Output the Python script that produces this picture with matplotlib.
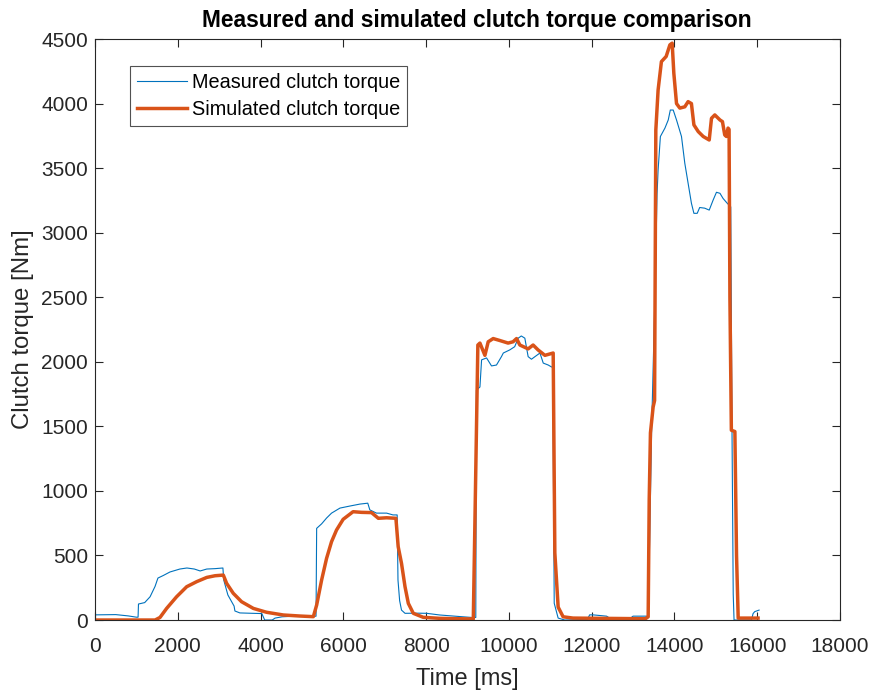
import matplotlib
matplotlib.use("Agg")
import matplotlib.pyplot as plt

plt.rcParams['font.family'] = ['Liberation Sans', 'DejaVu Sans']

# Measured clutch torque (time in ms, torque in Nm)
meas_t = [0, 500, 800, 1000, 1040, 1050, 1200, 1330, 1450, 1520, 1650, 1810, 2050, 2220,
          2400, 2540, 2700, 2900, 3090, 3110, 3210, 3360, 3380, 3500, 3800, 4030, 4100,
          4280, 4350, 4520, 4710, 5000, 5300, 5340, 5355, 5475, 5595, 5715, 5918, 6160,
          6400, 6590, 6640, 6800, 7045, 7200, 7300, 7320, 7360, 7405, 7490, 7800, 8010,
          8330, 8890, 9100, 9200, 9215, 9300, 9340, 9460, 9580, 9700, 9820, 9865, 10020,
          10140, 10225, 10300, 10385, 10465, 10545, 10630, 10750, 10830, 10950, 11030,
          11060, 11095, 11190, 11350, 11900, 11950, 12030, 12360, 12480, 12900, 13000,
          13360, 13400, 13450, 13520, 13580, 13605, 13660, 13770, 13850, 13900, 13970,
          14050, 14170, 14250, 14330, 14410, 14470, 14550, 14610, 14730, 14840, 14935,
          15015, 15100, 15175, 15275, 15360, 15390, 15420, 15440, 15860, 15900, 15940, 16045]
meas_v = [40, 42, 32, 22, 22, 124, 135, 180, 260, 325, 345, 372, 395, 403,
          395, 380, 395, 398, 403, 310, 194, 108, 70, 55, 52, 50, 0,
          0, 15, 25, 28, 30, 28, 30, 710, 745, 790, 828, 867, 883,
          898, 905, 853, 828, 828, 814, 814, 310, 150, 77, 52, 53, 52,
          39, 25, 20, 20, 1780, 1805, 2015, 2030, 1968, 1975, 2040, 2068, 2092,
          2117, 2183, 2200, 2183, 2040, 2020, 2040, 2068, 1990, 1975, 1960,
          1960, 130, 15, 0, 5, 40, 40, 30, 5, 5, 30,
          30, 600, 1500, 2400, 3300, 3485, 3745, 3810, 3873, 3950, 3950,
          3873, 3745, 3538, 3383, 3228, 3150, 3150, 3195, 3190, 3175, 3253,
          3313, 3305, 3265, 3228, 3200, 1500, 200, 0, 0, 50, 65, 77]

# Simulated clutch torque
sim_t = [0, 1450, 1570, 1730, 1970, 2215, 2455, 2700, 2900, 3100, 3180, 3340, 3540, 3825,
         4145, 4550, 4950, 5275, 5355, 5475, 5595, 5715, 5835, 5995, 6235, 6440, 6680,
         6845, 7045, 7270, 7325, 7405, 7490, 7570, 7690, 7930, 8330, 9100, 9140, 9250,
         9300, 9420, 9500, 9620, 9780, 9980, 10100, 10185, 10265, 10465, 10585, 10705,
         10870, 11070, 11110, 11190, 11310, 11550, 13300, 13365, 13390, 13420, 13485,
         13520, 13550, 13605, 13685, 13800, 13890, 13945, 13985, 14050, 14130, 14250,
         14330, 14410, 14470, 14575, 14695, 14840, 14895, 14975, 15100, 15160, 15215,
         15255, 15295, 15320, 15340, 15375, 15460, 15500, 15540, 16020]
sim_v = [0, 0, 20, 90, 180, 258, 297, 330, 343, 348, 284, 207, 142, 90,
         60, 39, 31, 26, 116, 310, 478, 607, 697, 780, 839, 834, 832,
         788, 792, 788, 568, 439, 258, 129, 52, 21, 13, 8, 8, 2130,
         2145, 2050, 2155, 2180, 2165, 2145, 2155, 2180, 2130, 2100, 2130, 2092,
         2050, 2068, 520, 100, 25, 15, 10, 25, 930, 1450, 1650,
         1700, 3795, 4105, 4325, 4365, 4455, 4468, 4235, 4000, 3965, 3975,
         4015, 4000, 3835, 3783, 3745, 3718, 3886, 3912, 3873, 3860, 3757,
         3745, 3810, 3800, 2500, 1470, 1460, 500, 15, 15]

x_ticks = list(range(0, 18001, 2000))
y_ticks = list(range(0, 4501, 500))

fig = plt.figure(figsize=(8.75, 6.93), dpi=100)
ax = fig.add_axes([0.1086, 0.1053, 0.8514, 0.8384])

ax.plot(meas_t, meas_v, color='#0072BD', lw=0.8, label='Measured clutch torque')
ax.plot(sim_t, sim_v, color='#D95319', lw=2.5, label='Simulated clutch torque')

ax.set_xlim(0, 18000)
ax.set_ylim(0, 4500)
ax.set_xticks(x_ticks)
ax.set_yticks(y_ticks)
ax.tick_params(direction='in', length=6, width=0.8, top=True, right=True,
               labelsize=15, colors='#262626')
ax.tick_params(axis='x', pad=12)
ax.tick_params(axis='y', pad=5)
for s in ax.spines.values():
    s.set_color('#262626')
    s.set_linewidth(0.8)

ax.set_xlabel('Time [ms]', fontsize=17, color='#262626', labelpad=9)
ax.set_ylabel('Clutch torque [Nm]', fontsize=17.3, color='#262626', labelpad=5)
ax.set_title('Measured and simulated clutch torque comparison', fontsize=16.4,
             fontweight='bold', pad=9, x=0.512)

leg = ax.legend(loc='upper left', bbox_to_anchor=(0.047, 0.9535), fontsize=14.3,
                frameon=True, fancybox=False, edgecolor='#262626',
                borderaxespad=0, borderpad=0.35, handlelength=2.5,
                handletextpad=0.25, labelspacing=0.4)
leg.get_frame().set_linewidth(0.8)

fig.savefig('out.png', dpi=100)
